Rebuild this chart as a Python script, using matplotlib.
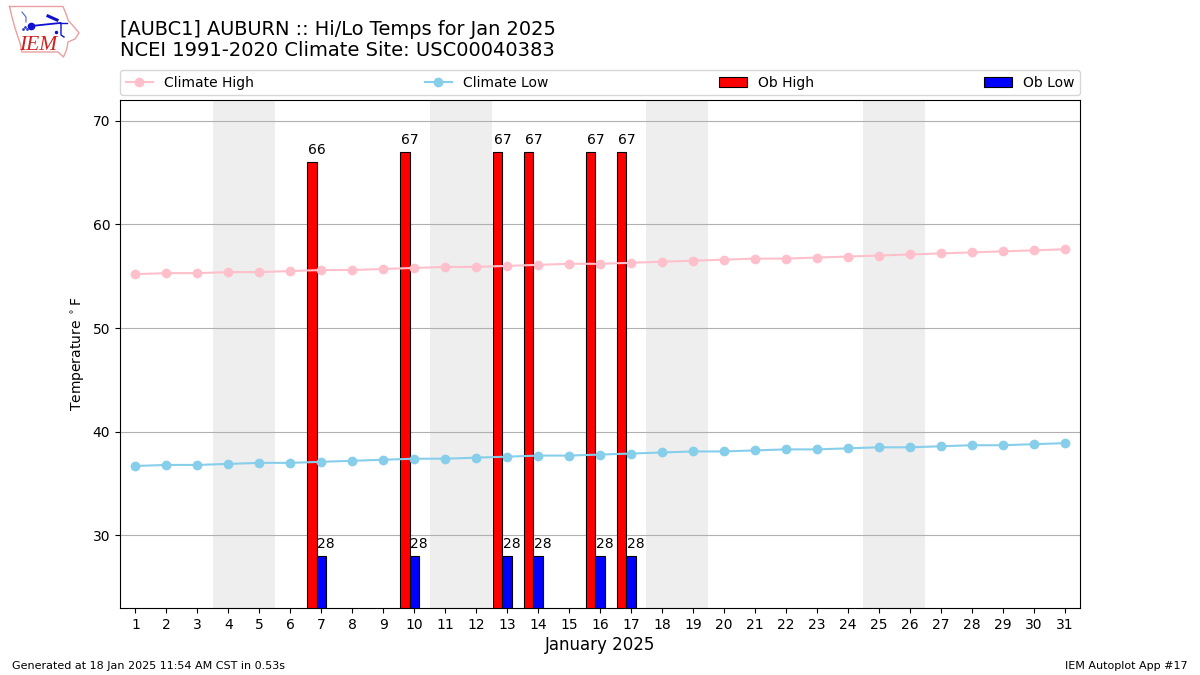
import matplotlib
matplotlib.use("Agg")  # headless
import matplotlib.pyplot as plt

# ------------------------
# Data
# ------------------------
days = list(range(1, 32))
climate_high = [55.2, 55.3, 55.3, 55.4, 55.4, 55.5, 55.6, 55.6, 55.7, 55.8, 55.9,
                55.9, 56.0, 56.1, 56.2, 56.2, 56.3, 56.4, 56.5, 56.6, 56.7, 56.7,
                56.8, 56.9, 57.0, 57.1, 57.2, 57.3, 57.4, 57.5, 57.6]
climate_low = [36.7, 36.8, 36.8, 36.9, 37.0, 37.0, 37.1, 37.2, 37.3, 37.4, 37.4,
               37.5, 37.6, 37.7, 37.7, 37.8, 37.9, 38.0, 38.1, 38.1, 38.2, 38.3,
               38.3, 38.4, 38.5, 38.5, 38.6, 38.7, 38.7, 38.8, 38.9]
ob_days = [7, 10, 13, 14, 16, 17]
ob_high = [66, 67, 67, 67, 67, 67]
ob_low = [28, 28, 28, 28, 28, 28]
weekends = [(4, 5), (11, 12), (18, 19), (25, 26)]

# logo shapes, in pixels of the 120x70 logo box
iowa_x = [9.5, 63, 66.5, 68, 75, 79, 75, 68, 66.5, 63.5, 58, 22, 20, 15, 12, 9.5]
iowa_y = [6.5, 6.5, 15, 20, 28, 33, 39, 42, 50, 57, 52, 52, 43, 28, 17, 6.5]

fig = plt.figure(figsize=(12, 6.75), dpi=100)
ax = fig.add_axes([120 / 1200, 1 - 608 / 675, 960 / 1200, 508 / 675])

for start, end in weekends:
    ax.axvspan(start - 0.5, end + 0.5, color="#EEEEEE", lw=0, zorder=0)

ax.plot(days, climate_high, color="pink", marker="o", lw=1.5, ms=6, label="Climate High", zorder=3)
ax.plot(days, climate_low, color="skyblue", marker="o", lw=1.5, ms=6, label="Climate Low", zorder=3)

hi_x = [d - 0.3 for d in ob_days]
ax.bar(hi_x, ob_high, width=0.3, color="red", edgecolor="black", lw=0.8, label="Ob High", zorder=2)
ax.bar(ob_days, ob_low, width=0.3, color="blue", edgecolor="black", lw=0.8, label="Ob Low", zorder=2)

for d, hi, lo in zip(ob_days, ob_high, ob_low):
    ax.text(d - 0.43, hi + 0.5, str(hi), ha="left", va="bottom", fontsize=10, zorder=4)
    ax.text(d - 0.13, lo + 0.5, str(lo), ha="left", va="bottom", fontsize=10, zorder=4)

ax.set_xlim(0.5, 31.5)
ax.set_ylim(23, 72)
ax.set_xticks(days)
ax.set_yticks([30, 40, 50, 60, 70])
ax.grid(axis="y", color="#b0b0b0", lw=0.8, zorder=1)
ax.set_axisbelow(True)
ax.set_xlabel("January 2025", fontsize=12, labelpad=3)
ax.set_ylabel(r"Temperature $^\circ$F", fontsize=10)

ax.legend(loc="lower left", bbox_to_anchor=(0, 1.0096, 1, 0.05), ncol=4, mode="expand",
          borderaxespad=0, fontsize=10)

# ------------------------
# Header and footer
# ------------------------
fig.text(120 / 1200, 1 - 29.5 / 675, "[AUBC1] AUBURN :: Hi/Lo Temps for Jan 2025", fontsize=13.98, va="center")
fig.text(120 / 1200, 1 - 50.5 / 675, "NCEI 1991-2020 Climate Site: USC00040383", fontsize=14, va="center")
fig.text(12 / 1200, 1 - 666 / 675, "Generated at 18 Jan 2025 11:54 AM CST in 0.53s", fontsize=8, va="center")
fig.text(1188 / 1200, 1 - 666 / 675, "IEM Autoplot App #17", fontsize=8, va="center", ha="right")

# ------------------------
# Logo
# ------------------------
logo = fig.add_axes([0, 1 - 70 / 675, 120 / 1200, 70 / 675])
logo.set_xlim(0, 120)
logo.set_ylim(70, 0)
logo.axis("off")
logo.plot(iowa_x, iowa_y, color="#e8a0a0", lw=1)
logo.plot([31, 60], [26, 23], color="#1010d0", lw=1.3)
logo.plot([60, 67], [23, 23], color="#1010d0", lw=1)
logo.plot([61, 61, 64], [23, 35, 37], color="#1010d0", lw=1)
logo.plot([48, 57], [16, 20], color="#1010d0", lw=2.2)
logo.plot([22, 26, 26], [12, 17, 22], color="#5060d0", lw=0.8)
logo.plot([31], [26], marker="o", color="#1010d0", ms=4.5)
logo.plot([23, 25, 27], [29, 27, 29], ls="none", marker=".", color="#3040d0", ms=2)
logo.plot([56], [32], marker=".", color="#1010d0", ms=3)
logo.text(38, 45.5, "IEM", color="#d02020", family="Liberation Serif", style="italic",
          fontsize=15.5, ha="center", va="center")

fig.savefig("out.png", dpi=100)
plt.close(fig)
